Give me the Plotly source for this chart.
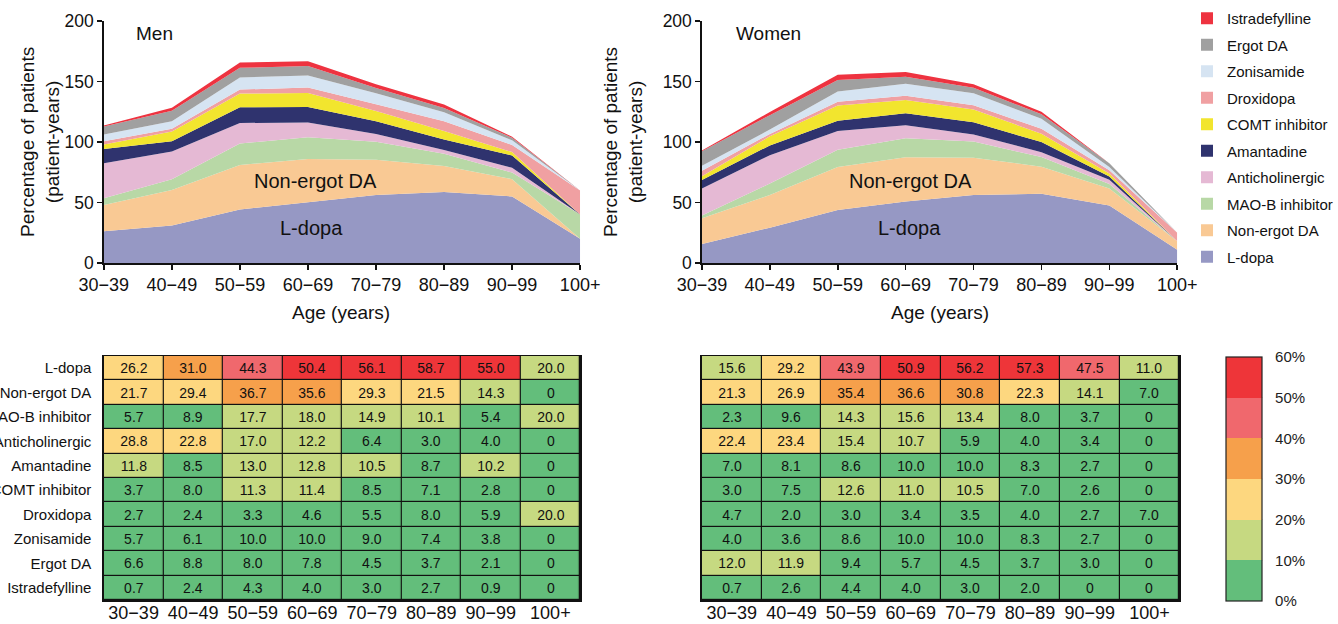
import math
import plotly.graph_objects as go

# ---------------- data ----------------
ages = ["30−39", "40−49", "50−59", "60−69", "70−79", "80−89", "90−99", "100+"]
drugs = ["L-dopa", "Non-ergot DA", "MAO-B inhibitor", "Anticholinergic", "Amantadine",
         "COMT inhibitor", "Droxidopa", "Zonisamide", "Ergot DA", "Istradefylline"]

men_ldopa = [26.2, 31.0, 44.3, 50.4, 56.1, 58.7, 55.0, 20.0]
men_nonergot = [21.7, 29.4, 36.7, 35.6, 29.3, 21.5, 14.3, 0]
men_maob = [5.7, 8.9, 17.7, 18.0, 14.9, 10.1, 5.4, 20.0]
men_antichol = [28.8, 22.8, 17.0, 12.2, 6.4, 3.0, 4.0, 0]
men_amantadine = [11.8, 8.5, 13.0, 12.8, 10.5, 8.7, 10.2, 0]
men_comt = [3.7, 8.0, 11.3, 11.4, 8.5, 7.1, 2.8, 0]
men_droxidopa = [2.7, 2.4, 3.3, 4.6, 5.5, 8.0, 5.9, 20.0]
men_zonisamide = [5.7, 6.1, 10.0, 10.0, 9.0, 7.4, 3.8, 0]
men_ergot = [6.6, 8.8, 8.0, 7.8, 4.5, 3.7, 2.1, 0]
men_istra = [0.7, 2.4, 4.3, 4.0, 3.0, 2.7, 0.9, 0]

women_ldopa = [15.6, 29.2, 43.9, 50.9, 56.2, 57.3, 47.5, 11.0]
women_nonergot = [21.3, 26.9, 35.4, 36.6, 30.8, 22.3, 14.1, 7.0]
women_maob = [2.3, 9.6, 14.3, 15.6, 13.4, 8.0, 3.7, 0]
women_antichol = [22.4, 23.4, 15.4, 10.7, 5.9, 4.0, 3.4, 0]
women_amantadine = [7.0, 8.1, 8.6, 10.0, 10.0, 8.3, 2.7, 0]
women_comt = [3.0, 7.5, 12.6, 11.0, 10.5, 7.0, 2.6, 0]
women_droxidopa = [4.7, 2.0, 3.0, 3.4, 3.5, 4.0, 2.7, 7.0]
women_zonisamide = [4.0, 3.6, 8.6, 10.0, 10.0, 8.3, 2.7, 0]
women_ergot = [12.0, 11.9, 9.4, 5.7, 4.5, 3.7, 3.0, 0]
women_istra = [0.7, 2.6, 4.4, 4.0, 3.0, 2.0, 0, 0]

men = [men_ldopa, men_nonergot, men_maob, men_antichol, men_amantadine,
       men_comt, men_droxidopa, men_zonisamide, men_ergot, men_istra]
women = [women_ldopa, women_nonergot, women_maob, women_antichol, women_amantadine,
         women_comt, women_droxidopa, women_zonisamide, women_ergot, women_istra]

drug_colors = ["#9698C4", "#F9C994", "#B8D8A6", "#E5B9D4", "#2F336E",
               "#F2E52E", "#F0A0A2", "#D6E4F2", "#A0A0A0", "#EE3340"]

bin_colors = ["#63BE7B", "#C6D981", "#FDD77F", "#F6A04B", "#F0686D", "#EE3539"]
bin_ticks = [0, 10, 20, 30, 40, 50, 60]
bin_labels = ["0%", "10%", "20%", "30%", "40%", "50%", "60%"]

# ---------------- geometry helpers ----------------
W, H = 1338, 624
FONT = "Liberation Sans, Arial, Helvetica, sans-serif"
INK = "#111111"


def px(x):
    return x / W


def py(y):
    return 1 - y / H


def bin_mid(v):
    b = max(0, math.ceil(v / 10) - 1)
    return b * 10 + 5


def fmt(v):
    return "0" if v == 0 else f"{v:.1f}"


colorscale = []
for i, c in enumerate(bin_colors):
    colorscale.append([i / 6, c])
    colorscale.append([(i + 1) / 6, c])

fig = go.Figure()

# legend entries (square swatches), top to bottom
for name, col in reversed(list(zip(drugs, drug_colors))):
    fig.add_trace(go.Scatter(x=[None], y=[None], mode="markers", name=name,
                             legendgroup=name,
                             marker=dict(symbol="square", size=15, color=col),
                             xaxis="x", yaxis="y"))

# stacked areas
xs = list(range(len(ages)))
for data, ax, grp in [(men, ("x", "y"), "men"), (women, ("x2", "y2"), "women")]:
    for name, col, vals in zip(drugs, drug_colors, data):
        fig.add_trace(go.Scatter(x=xs, y=vals, stackgroup=grp, mode="lines",
                                 line=dict(width=0, color=col), fillcolor=col,
                                 name=name, showlegend=False, hoverinfo="skip",
                                 xaxis=ax[0], yaxis=ax[1]))

# colour bar geometry (pixels)
CB_X0, CB_X1, CB_Y0, CB_Y1 = 1228, 1264, 357, 601

# tables
for data, ax, show in [(men, ("x3", "y3"), False), (women, ("x4", "y4"), True)]:
    z = [[bin_mid(v) for v in row] for row in data]
    txt = [[fmt(v) for v in row] for row in data]
    fig.add_trace(go.Heatmap(
        z=z, x=xs, y=list(range(len(drugs))), text=txt, texttemplate="%{text}",
        textfont=dict(size=14, color=INK, family=FONT),
        colorscale=colorscale, zmin=0, zmax=60, xgap=1.2, ygap=1.2,
        showscale=show, hoverinfo="skip",
        colorbar=dict(x=px(CB_X0), xanchor="left", xpad=0, ypad=0,
                      y=py((CB_Y0 + CB_Y1) / 2), yanchor="middle",
                      len=(CB_Y1 - CB_Y0) / H, lenmode="fraction",
                      thickness=CB_X1 - CB_X0, thicknessmode="pixels",
                      outlinewidth=1.2, outlinecolor="#222222",
                      tickmode="array", tickvals=bin_ticks, ticktext=bin_labels,
                      ticks="outside", ticklen=10, tickcolor="rgba(0,0,0,0)",
                      tickfont=dict(size=15, family=FONT, color="#222222")),
        xaxis=ax[0], yaxis=ax[1]))

area_x = dict(range=[0, 7], tickmode="array", tickvals=xs, ticktext=ages,
              showline=True, linecolor=INK, linewidth=1.6, ticks="outside",
              ticklen=5, tickwidth=1.6, tickcolor=INK, showgrid=False,
              zeroline=False, automargin=False, fixedrange=True,
              tickfont=dict(size=18, family=FONT, color=INK))
area_y = dict(range=[0, 200], tickmode="array", tickvals=[0, 50, 100, 150, 200],
              showline=True, linecolor=INK, linewidth=1.6, ticks="outside",
              ticklen=5, tickwidth=1.6, tickcolor=INK, showgrid=False,
              zeroline=False, automargin=False, fixedrange=True,
              tickfont=dict(size=17.5, family=FONT, color=INK))
tab_x = dict(range=[-0.5, 7.5], tickmode="array", tickvals=xs, ticktext=ages,
             showline=True, mirror=True, linecolor=INK, linewidth=1.5,
             ticks="", showgrid=False, zeroline=False, automargin=False,
             ticklabelstandoff=-4, fixedrange=True,
             tickfont=dict(size=18, family=FONT, color=INK))
tab_y = dict(range=[9.5, -0.5], tickmode="array", tickvals=list(range(10)),
             ticktext=drugs, showline=True, mirror=True, linecolor=INK,
             linewidth=1.5, ticks="", showgrid=False, zeroline=False,
             automargin=False, ticklabelstandoff=8, fixedrange=True,
             tickfont=dict(size=15, family=FONT, color=INK))

men_dom_x = [px(104), px(581)]
women_dom_x = [px(703), px(1179)]
area_dom_y = [py(263), py(21)]
tab_dom_y = [py(600), py(356)]

fig.update_layout(
    width=W, height=H, margin=dict(l=0, r=0, t=0, b=0),
    paper_bgcolor="white", plot_bgcolor="white",
    font=dict(family=FONT, color=INK),
    xaxis=dict(area_x, domain=men_dom_x, anchor="y"),
    yaxis=dict(area_y, domain=area_dom_y, anchor="x"),
    xaxis2=dict(area_x, domain=women_dom_x, anchor="y2"),
    yaxis2=dict(area_y, domain=area_dom_y, anchor="x2"),
    xaxis3=dict(tab_x, domain=[px(104), px(581)], anchor="y3"),
    yaxis3=dict(tab_y, domain=tab_dom_y, anchor="x3"),
    xaxis4=dict(tab_x, domain=[px(703), px(1181)], anchor="y4"),
    yaxis4=dict(tab_y, domain=tab_dom_y, anchor="x4", showticklabels=False),
    showlegend=True,
    legend=dict(x=px(1189), y=py(2), xanchor="left", yanchor="top",
                traceorder="grouped", tracegroupgap=4, itemsizing="constant",
                font=dict(size=15, family=FONT, color=INK),
                bgcolor="rgba(0,0,0,0)"),
)

# black background behind table cells (grid lines)
for xr, yr in [("x3", "y3"), ("x4", "y4")]:
    fig.add_shape(type="rect", xref=xr, yref=yr, x0=-0.5, x1=7.5, y0=-0.5, y1=9.5,
                  fillcolor=INK, line=dict(width=0), layer="below")

# small inner tick dashes on the colour bar at the bin boundaries
for t in bin_ticks[1:-1]:
    yy = CB_Y1 - (CB_Y1 - CB_Y0) * t / 60
    for xa, xb in [(CB_X0, CB_X0 + 5), (CB_X1 - 5, CB_X1)]:
        fig.add_shape(type="line", xref="paper", yref="paper",
                      x0=px(xa), x1=px(xb), y0=py(yy), y1=py(yy),
                      line=dict(color="#222222", width=1.2), layer="above")

ann = []


def add_ann(text, x, y, size, angle=0):
    ann.append(dict(text=text, x=px(x), y=py(y), xref="paper", yref="paper",
                    xanchor="center", yanchor="middle", showarrow=False,
                    textangle=angle, font=dict(size=size, family=FONT, color=INK)))


add_ann("Men", 155, 33, 19)
add_ann("Women", 770, 33, 19)
for cx in (316, 912):
    add_ann("Non-ergot DA", cx, 181, 20)
for cx in (312, 911):
    add_ann("L-dopa", cx, 228, 20)
for cx in (40, 624):
    add_ann("Percentage of patients<br>(patient-years)", cx, 142, 19, -90)
for cx in (342, 941):
    add_ann("Age (years)", cx, 312, 19)
fig.update_layout(annotations=ann)

fig.write_html("out.html",
               config={"displayModeBar": False, "staticPlot": True},
               post_script="document.body.style.margin='0';"
                           "document.body.style.padding='0';")
